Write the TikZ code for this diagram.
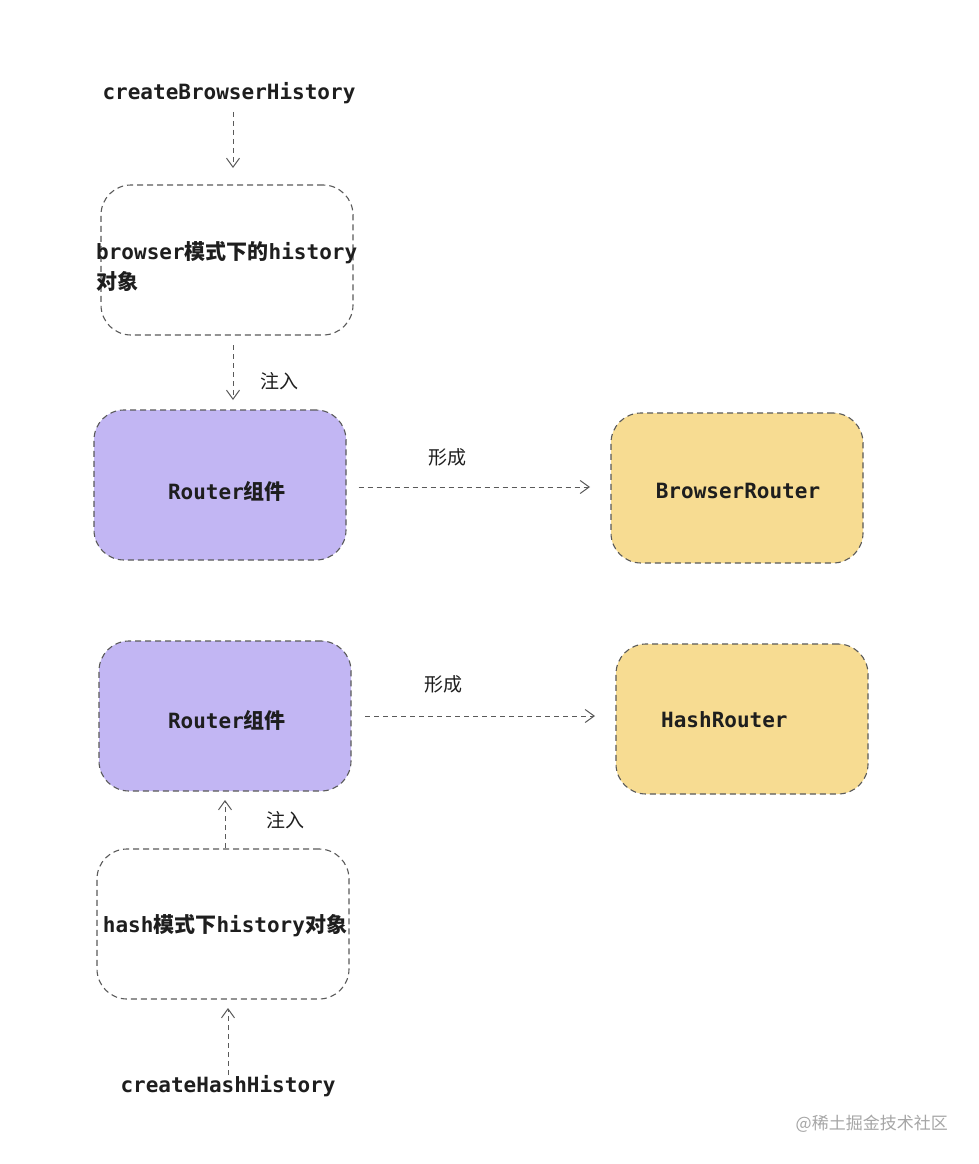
\documentclass[tikz,border=0pt]{standalone}
\usepackage{fontspec}
\setmonofont{DejaVu Sans Mono}
\newfontfamily\cjk{Noto Sans CJK SC}
\newfontfamily\cjkb{Noto Sans CJK SC Medium}
\usetikzlibrary{arrows.meta}
\definecolor{edgegray}{HTML}{5A5A5A}
\definecolor{lav}{HTML}{C2B6F3}
\definecolor{sand}{HTML}{F7DC92}
\definecolor{inkc}{HTML}{1E1E1E}
\begin{document}
\begin{tikzpicture}[x=1pt,y=-1pt,
  box/.style={draw=edgegray, line width=1.1pt, dash pattern=on 6pt off 4pt,
    rounded corners=30pt, minimum width=252pt, minimum height=150pt, inner sep=0pt},
  plainbox/.style={box, fill=white},
  lavbox/.style={box, fill=lav},
  sandbox/.style={box, fill=sand},
  lbl/.style={font=\ttfamily\bfseries\fontsize{21}{26}\selectfont, text=inkc, inner sep=0pt},
  zh/.style={font=\cjk\fontsize{19}{22}\selectfont, text=inkc, inner sep=0pt},
  conn/.style={draw=edgegray, line width=1pt, dash pattern=on 5pt off 4pt,
    -{Straight Barb[length=9pt,width=13pt,line width=1pt]}}
]
\useasboundingbox (0,0) rectangle (978,1164);
\fill[white] (0,0) rectangle (978,1164);

% top
\node[lbl] (cbh) at (229,93) {createBrowserHistory};
\node[plainbox] (bh) at (227,260) {};
\node[lbl, align=left, anchor=west] (bhtext) at (96,266) {browser{\cjkb 模式下的}history\\[4pt]{\cjkb 对象}};
\node[lavbox] (r1) at (220,485) {};
\node[lbl] (r1t) at (227,491) {Router{\cjkb 组件}};
\node[sandbox] (br) at (737,488) {};
\node[lbl] (brt) at (738,491) {BrowserRouter};

\draw[conn] (cbh.south) ++(4,8) coordinate (a1s) -- (233,168) coordinate (a1e);
\draw[conn] (233,345) coordinate (a2s) -- (233,400) coordinate (a2e);
\node[zh] (inj1) at (279,381) {注入};
\draw[conn] (r1.east) ++(12,2) coordinate (a3s) -- (590,487) coordinate (a3e);
\node[zh] (form1) at (447,457) {形成};

% bottom
\node[lavbox] (r2) at (225,716) {};
\node[lbl] (r2t) at (227,720) {Router{\cjkb 组件}};
\node[sandbox] (hr) at (742,719) {};
\node[lbl, anchor=west] (hrt) at (661,720) {HashRouter};
\draw[conn] (365,716) coordinate (a4s) -- (595,716) coordinate (a4e);
\node[zh] (form2) at (443,684) {形成};

\node[plainbox] (hh) at (223,924) {};
\node[lbl] (hht) at (225,926) {hash{\cjkb 模式下}history{\cjkb 对象}};
\draw[conn] (225,848) coordinate (a5s) -- (225,800) coordinate (a5e);
\node[zh] (inj2) at (285,820) {注入};

\node[lbl] (chh) at (228,1086) {createHashHistory};
\draw[conn] (228,1075) coordinate (a6s) -- (228,1008) coordinate (a6e);

\node[font=\cjk\fontsize{17}{20}\selectfont, text=gray!70, anchor=east, inner sep=0pt] (wm) at (948,1124) {@稀土掘金技术社区};
\end{tikzpicture}
\end{document}
